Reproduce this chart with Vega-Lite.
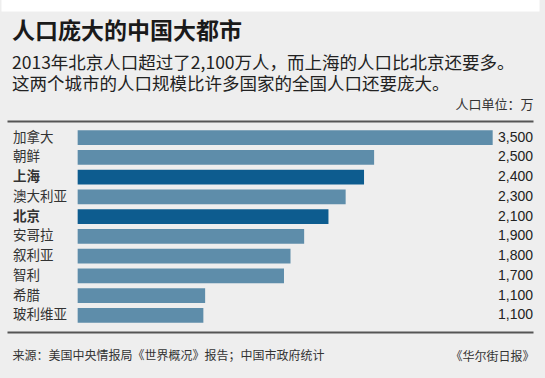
{
  "$schema": "https://vega.github.io/schema/vega-lite/v6.json",
  "width": 526,
  "height": 211,
  "autosize": "none",
  "padding": {"left": 7, "top": 121, "right": 12, "bottom": 46},
  "background": "#eeeeee",
  "config": {"view": {"stroke": null}},
  "title": {
    "text": "人口庞大的中国大都市",
    "subtitle": ["2013年北京人口超过了2,100万人，而上海的人口比北京还要多。", "这两个城市的人口规模比许多国家的全国人口还要庞大。"],
    "anchor": "start",
    "frame": "group",
    "dx": 5,
    "offset": -88.5,
    "baseline": "top",
    "font": "Noto Sans CJK SC",
    "fontSize": 23,
    "fontWeight": "bold",
    "color": "#1a1a1a",
    "subtitleFont": "Noto Sans CJK SC",
    "subtitleFontSize": 17.5,
    "subtitleColor": "#222222",
    "subtitleLineHeight": 21.5,
    "subtitlePadding": 10.5
  },
  "data": {
    "values": [
      {"name": "加拿大", "value": 3500, "label": "3,500", "hl": false},
      {"name": "朝鲜", "value": 2500, "label": "2,500", "hl": false},
      {"name": "上海", "value": 2415, "label": "2,400", "hl": true},
      {"name": "澳大利亚", "value": 2260, "label": "2,300", "hl": false},
      {"name": "北京", "value": 2115, "label": "2,100", "hl": true},
      {"name": "安哥拉", "value": 1910, "label": "1,900", "hl": false},
      {"name": "叙利亚", "value": 1795, "label": "1,800", "hl": false},
      {"name": "智利", "value": 1740, "label": "1,700", "hl": false},
      {"name": "希腊", "value": 1075, "label": "1,100", "hl": false},
      {"name": "玻利维亚", "value": 1060, "label": "1,100", "hl": false}
    ]
  },
  "layer": [
    {
      "transform": [{"filter": "!datum.hl"}],
      "mark": {"type": "bar", "color": "#5e8daa"},
      "encoding": {
        "y": {
          "field": "name", "type": "nominal",
          "sort": ["加拿大", "朝鲜", "上海", "澳大利亚", "北京", "安哥拉", "叙利亚", "智利", "希腊", "玻利维亚"],
          "scale": {"paddingInner": 0.26, "paddingOuter": 0.47},
          "axis": {
            "orient": "left", "domain": false, "ticks": false, "grid": false,
            "labelAlign": "left", "labelPadding": -5.5, "labelBaseline": "middle",
            "labelFont": "Noto Sans CJK SC", "labelFontSize": 13.5, "labelColor": "#333333",
            "labelFontWeight": {"condition": {"test": "datum.value === '上海' || datum.value === '北京'", "value": "bold"}, "value": "normal"},
            "title": "《华尔街日报》", "titleAngle": 0, "titleAlign": "right", "titleBaseline": "middle",
            "titleX": 527, "titleY": 235, "titleFont": "Noto Sans CJK SC", "titleFontSize": 12,
            "titleFontWeight": "normal", "titleColor": "#333333"
          }
        },
        "x": {
          "field": "value", "type": "quantitative",
          "scale": {"domain": [-596, 3840], "nice": false, "zero": false},
          "axis": {
            "orient": "top", "labels": false, "ticks": false, "grid": false,
            "domainColor": "#555555", "domainWidth": 2,
            "title": "人口单位：万", "titleAlign": "right", "titleBaseline": "middle",
            "titleX": 526, "titleY": -16.5, "titleFont": "Noto Sans CJK SC", "titleFontSize": 13,
            "titleFontWeight": "normal", "titleColor": "#333333"
          }
        },
        "x2": {"datum": 0}
      }
    },
    {
      "transform": [{"filter": "datum.hl"}],
      "mark": {"type": "bar", "color": "#0d5c8f"},
      "encoding": {
        "y": {"field": "name", "type": "nominal", "sort": ["加拿大", "朝鲜", "上海", "澳大利亚", "北京", "安哥拉", "叙利亚", "智利", "希腊", "玻利维亚"], "axis": null},
        "x": {
          "field": "value", "type": "quantitative",
          "axis": {
            "orient": "bottom", "labels": false, "ticks": false, "grid": false,
            "domainColor": "#555555", "domainWidth": 2,
            "title": "来源：美国中央情报局《世界概况》报告；中国市政府统计", "titleAlign": "left", "titleBaseline": "middle",
            "titleX": 5, "titleY": 23, "titleFont": "Noto Sans CJK SC", "titleFontSize": 12,
            "titleFontWeight": "normal", "titleColor": "#333333"
          }
        },
        "x2": {"datum": 0}
      }
    },
    {
      "mark": {"type": "text", "align": "right", "baseline": "middle", "font": "Liberation Sans", "fontSize": 14, "color": "#222222"},
      "encoding": {
        "y": {"field": "name", "type": "nominal", "sort": ["加拿大", "朝鲜", "上海", "澳大利亚", "北京", "安哥拉", "叙利亚", "智利", "希腊", "玻利维亚"], "axis": null},
        "x": {
          "datum": 3840, "type": "quantitative",
          "axis": {
            "orient": "top", "offset": 116, "labels": false, "ticks": false, "grid": false,
            "domainColor": "#ffffff", "domainWidth": 12, "domainCap": "square", "title": null
          }
        },
        "text": {"field": "label", "type": "nominal"}
      }
    }
  ],
  "resolve": {"axis": {"x": "independent", "y": "independent"}, "scale": {"x": "shared", "y": "shared"}}
}
